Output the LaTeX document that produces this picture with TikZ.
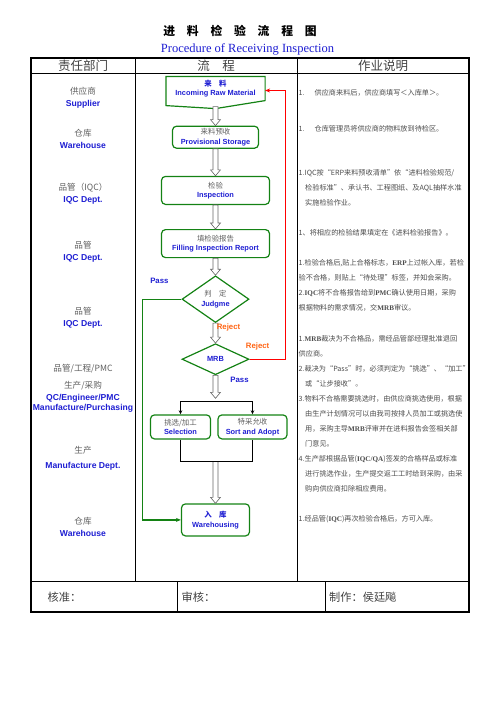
\documentclass[tikz,border=0pt]{standalone}
\usepackage{fontspec}
\usepackage{tikz}
\usetikzlibrary{shapes, arrows.meta, positioning, calc}

\setmainfont{Liberation Serif}
\newfontfamily\cjk{Noto Sans CJK SC}
\newfontfamily\arial{Liberation Sans}

\definecolor{boxgreen}{RGB}{20,130,20}
\definecolor{txtblue}{RGB}{30,30,210}
\definecolor{rejorange}{RGB}{255,100,20}
\definecolor{txtgray}{RGB}{95,95,95}

\newcommand{\cnline}[1]{{\cjk\color{txtgray}#1}}
\newcommand{\cntitle}[1]{{\cjk\bfseries\color{txtblue}#1}}
\newcommand{\enline}[1]{{\arial\bfseries\color{txtblue}#1}}
\newcommand{\lat}[1]{{\rmfamily\bfseries #1}}
% white double-line arrow between two points (vertical)
\newcommand{\hollowarrow}[2]{%
  \path[hollow] let \p1=(#1), \p2=(#2) in
    (\x1-2.5pt,\y1) -- (\x1-2.5pt,\y2+6pt) -- (\x1-5pt,\y2+6pt) -- (\x1,\y2)
    -- (\x1+5pt,\y2+6pt) -- (\x1+2.5pt,\y2+6pt) -- (\x1+2.5pt,\y1) -- cycle;}

\begin{document}
\begin{tikzpicture}[
        x=1pt, y=-1pt,
        tableframe/.style={line width=1.4pt},
        tablerule/.style={line width=0.7pt},
        head/.style={inner sep=0pt, text=black!75, font=\cjk\fontsize{12.5}{14}\selectfont},
        foot/.style={anchor=west, inner sep=0pt, text=black!75, font=\cjk\fontsize{11.2}{13}\selectfont},
        dept/.style={align=center, inner sep=0pt, font=\fontsize{8.6}{12}\selectfont},
        flowbox/.style={
            draw=boxgreen, line width=1.2pt, rounded corners=4pt,
            align=center, inner sep=0pt, font=\fontsize{7.4}{9.5}\selectfont
        },
        decide/.style={
            diamond, draw=boxgreen, line width=1.2pt, inner sep=0pt,
            align=center, minimum width=67pt, font=\fontsize{7.4}{10.5}\selectfont
        },
        note/.style={anchor=north west, align=left, inner sep=0pt, text=black!70, font=\cjk\fontsize{7.15}{15}\selectfont},
        hollow/.style={draw=black!60, fill=white, line width=0.6pt},
        flowline/.style={line width=0.8pt},
        passline/.style={draw=boxgreen, line width=1.2pt, -{Stealth[length=5pt,width=4pt]}},
        rejectline/.style={draw=red, line width=1.2pt, -{Stealth[length=5pt,width=4pt]}},
        passtext/.style={inner sep=0pt, text=txtblue, font=\arial\bfseries\fontsize{7.8}{9}\selectfont},
        rejecttext/.style={inner sep=0pt, text=rejorange, font=\arial\bfseries\fontsize{7.8}{9}\selectfont}
    ]
        \useasboundingbox (0,0) rectangle (496,702);

        % Title
        \node[font=\cjk\bfseries\fontsize{11.8}{14}\selectfont] (title) at (240,31) {进　料　检　验　流　程　图};
        \node[text=txtblue, font=\fontsize{12.5}{14}\selectfont] (subtitle) at (247.5,49) {Procedure of Receiving Inspection};

        % Table
        \draw[tableframe] (31,58) rectangle (469,612);
        \draw[tablerule] (31,73) -- (469,73);
        \draw[tablerule] (31,581) -- (469,581);
        \draw[tablerule] (135,58) -- (135,581);
        \draw[tablerule] (297,58) -- (297,581);
        \draw[tablerule] (177,581) -- (177,612);
        \draw[tablerule] (325,581) -- (325,612);

        \node[head] (hdept) at (83,65.5) {责任部门};
        \node[head] (hflow) at (216,65.5) {流　程};
        \node[head] (hnote) at (383,65.5) {作业说明};

        % Departments
        \node[dept] (supplier) at (83,98) {\cnline{供应商}\\ \enline{Supplier}};
        \node[dept] (store) at (83,138.5) {\cnline{仓库}\\ \enline{Warehouse}};
        \node[dept] (iqca) at (83,194) {\cnline{品管（IQC）}\\ \enline{IQC Dept.}};
        \node[dept] (iqcb) at (83,251.5) {\cnline{品管}\\ \enline{IQC Dept.}};
        \node[dept] (iqcc) at (83,318) {\cnline{品管}\\ \enline{IQC Dept.}};
        \node[dept] (qcmix) at (83,388.5) {\cnline{品管/工程/PMC}\\[5pt] \cnline{生产/采购}\\ \enline{QC/Engineer/PMC}\\[-2pt] \enline{Manufacture/Purchasing}};
        \node[dept] (mfg) at (83,458.5) {\cnline{生产}\\[3pt] \enline{Manufacture Dept.}};
        \node[dept] (storeb) at (83,527) {\cnline{仓库}\\ \enline{Warehouse}};

        % Flow
        \node[flowbox, draw=none, minimum width=98pt, minimum height=23pt] (in) at (215.5,88.5) {\cntitle{来　料}\\ \enline{Incoming Raw Material}};
        \draw[boxgreen, line width=1.2pt] (in.north west) -- (in.north east) -- (in.south east)
            -- ([yshift=-8pt]in.south) -- ([yshift=-5pt]in.south west) -- cycle;
        \node[flowbox, minimum width=86pt, minimum height=22pt, below=25pt of in] (prov) {\cnline{来料预收}\\ \enline{Provisional Storage}};
        \node[flowbox, minimum width=108pt, minimum height=28pt, below=27pt of prov] (insp) {\cnline{检验}\\ \enline{Inspection}};
        \node[flowbox, minimum width=108pt, minimum height=28pt, below=24pt of insp] (fill) {\cnline{填检验报告}\\ \enline{Filling Inspection Report}};
        \node[decide, minimum height=45pt, below=17pt of fill] (judge) {\cnline{判　定}\\ \enline{Judgme}};
        \node[decide, minimum height=31pt, below=20pt of judge] (mrb) {\enline{MRB}};
        \node[flowbox, minimum width=60pt, minimum height=24pt, below=39pt of mrb, xshift=-35pt] (sel) {\cnline{挑选/加工}\\ \enline{Selection}};
        \node[flowbox, minimum width=69pt, minimum height=24pt, below=39pt of mrb, xshift=37pt] (sort) {\cnline{特采允收}\\ \enline{Sort and Adopt}};
        \node[flowbox, minimum width=68pt, minimum height=32pt, below=128pt of mrb] (wh) {\cntitle{入　库}\\ \enline{Warehousing}};

        % Hollow arrows
        \coordinate (split) at ([yshift=-26pt]mrb.south);
        \coordinate (splittip) at ([yshift=-23pt]mrb.south);
        \coordinate (selfoot) at ([yshift=-22pt]sel.south);
        \coordinate (joint) at (selfoot -| wh.north);
        \hollowarrow{[yshift=-6pt]in.south}{prov.north}
        \hollowarrow{prov.south}{insp.north}
        \hollowarrow{insp.south}{fill.north}
        \hollowarrow{fill.south}{judge.north}
        \hollowarrow{judge.south}{mrb.north}
        \hollowarrow{mrb.south}{splittip}
        \hollowarrow{joint}{wh.north}

        % Split and join
        \draw[flowline] (sel.north |- split) -- (sort.north |- split);
        \draw[flowline, -{Stealth[length=4pt,width=3.5pt]}] (sel.north |- split) -- (sel.north);
        \draw[flowline, -{Stealth[length=4pt,width=3.5pt]}] (sort.north |- split) -- (sort.north);
        \draw[flowline] (sel.south) -- (selfoot) -| (sort.south);

        % Pass and reject lines
        \draw[passline] (judge.west) -- ++(-39,0) |- (wh.west);
        \draw[rejectline] (mrb.east) -- ++(36,0) |- ([yshift=-2pt]in.east);
        \node[passtext] (passa) at ([xshift=-22pt,yshift=18.5pt]judge.west) {Pass};
        \node[rejecttext] (rejecta) at ([xshift=13pt,yshift=-4pt]judge.south) {Reject};
        \node[rejecttext] (rejectb) at ([xshift=8pt,yshift=12.5pt]mrb.east) {Reject};
        \node[passtext] (passb) at ([xshift=24pt,yshift=-5pt]mrb.south) {Pass};

        % Work notes
        \node[note] (notea) at (298.5,89) {1.\hspace{10pt}供应商来料后，供应商填写＜入库单＞。};
        \node[note] (noteb) at (298.5,125) {1.\hspace{10pt}仓库管理员将供应商的物料放到待检区。};
        \node[note] (notec) at (298.5,169) {1.IQC按“ERP来料预收清单”依“进料检验规范/\\
            \hspace*{6.5pt}检验标准”、承认书、工程图纸、及AQL抽样水准\\
            \hspace*{6.5pt}实施检验作业。};
        \node[note] (noted) at (298.5,229) {1、将相应的检验结果填定在《进料检验报告》。};
        \node[note] (notee) at (298.5,259) {1.检验合格后,贴上合格标志，\lat{ERP}上过帐入库，若检\\
            验不合格，则贴上“待处理”标签，并知会采购。\\
            2.\lat{IQC}将不合格报告给到\lat{PMC}确认使用日期，采购\\
            根据物料的需求情况，交\lat{MRB}审议。};
        \node[note] (notef) at (298.5,335) {1.\lat{MRB}裁决为不合格品，需经品管部经理批准退回\\
            供应商。\\
            2.裁决为“Pass”时，必须判定为“挑选”、“加工”\\
            \hspace*{6.5pt}或“让步接收”。\\
            3.物料不合格需要挑选时，由供应商挑选使用，根据\\
            \hspace*{6.5pt}由生产计划情况可以由我司按排人员加工或挑选使\\
            \hspace*{6.5pt}用，采购主导\lat{MRB}评审并在进料报告会签相关部\\
            \hspace*{6.5pt}门意见。\\
            4.生产部根据品管(\lat{IQC/QA})签发的合格样品或标准\\
            \hspace*{6.5pt}进行挑选作业，生产提交返工工时给到采购，由采\\
            \hspace*{6.5pt}购向供应商扣除相应费用。};
        \node[note] (noteg) at (298.5,515) {1.经品管(\lat{IQC})再次检验合格后，方可入库。};

        % Sign-off row
        \node[foot] (approve) at (47.5,597) {核准：};
        \node[foot] (review) at (181.5,597) {审核：};
        \node[foot] (maker) at (329,597) {制作：侯廷飚};

    \end{tikzpicture}
\end{document}
